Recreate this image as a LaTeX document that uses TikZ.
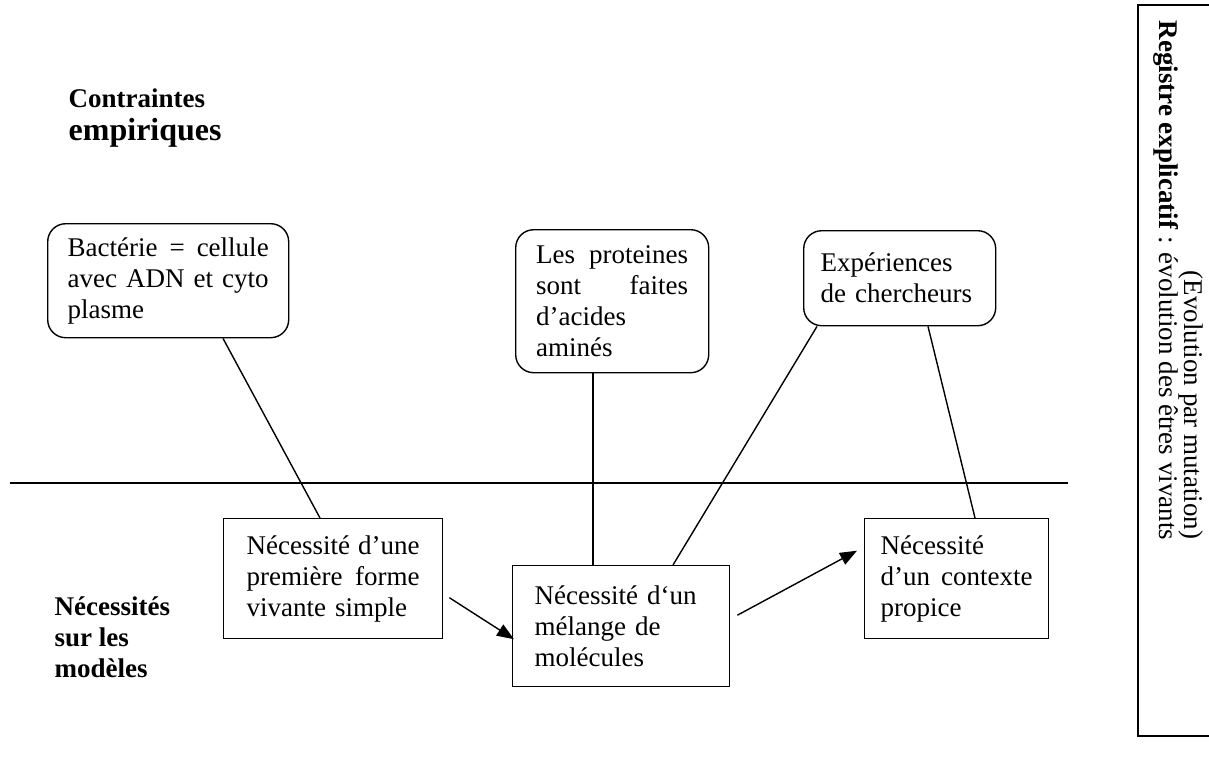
\documentclass[tikz,border=0pt]{standalone}
\usepackage{fontspec}
\setmainfont{Liberation Serif}
\usetikzlibrary{arrows.meta}
\setlength{\parindent}{0pt}
\newcommand{\jl}[1]{\leavevmode\hbox to \hsize{\spaceskip=0.25em plus 1fil\relax #1}}
\begin{document}
\begin{tikzpicture}[x=1pt,y=-1pt,line width=1.4pt,
  font=\fontsize{27}{31}\selectfont,
  box/.style={draw,inner sep=0pt,anchor=north west,align=left},
  rbox/.style={box,rounded corners=18pt},
  lbl/.style={inner sep=0pt},
  arr/.style={-{Triangle[length=17pt,width=13pt]}}]
\useasboundingbox (0,0) rectangle (1209,756);
% headings
\node[lbl,anchor=base west,font=\bfseries\fontsize{27}{31}\selectfont] (c1) at (68,107) {Contraintes};
\node[lbl,anchor=base west,font=\bfseries\fontsize{32}{36}\selectfont] (c2) at (68,140) {empiriques};
\node[lbl,anchor=base west,font=\bfseries\fontsize{27}{31}\selectfont] (nm) at (54,615)
  {\begin{tabular}[t]{@{}l@{}}Nécessités\\sur les\\modèles\end{tabular}};
% separator line
\draw (10,483) -- (1068,483);
% right frame
\draw (1209,5) -- (1138,5) -- (1138,736) -- (1209,736);
\node[lbl,rotate=-90,anchor=base west] (reg) at (1159,20)
  {\textbf{Registre explicatif} : évolution des êtres vivants};
\node[lbl,rotate=-90,anchor=base east] (evo) at (1184,540) {(Evolution par mutation)};
% upper boxes
\node[rbox,minimum width=241pt,minimum height=114pt,text width=201pt] (bact) at (47,223)
  {\jl{Bactérie = cellule}\\\jl{avec ADN et cyto}\\plasme};
\node[rbox,minimum width=193pt,minimum height=143pt,text width=152pt] (prot) at (515,229)
  {\jl{Les proteines}\\\jl{sont faites}\\d’acides\\aminés};
\node[rbox,minimum width=192pt,minimum height=95pt,text width=158pt] (exp) at (803,230)
  {Expériences\\de chercheurs};
% lower boxes
\node[box,minimum width=219pt,minimum height=120pt,text width=173pt] (n1) at (223,518)
  {\jl{Nécessité d’une}\\\jl{première forme}\\vivante simple};
\node[box,minimum width=217pt,minimum height=121pt,text width=173pt] (n2) at (512,565)
  {Nécessité d‘un\\mélange de\\molécules};
\node[box,minimum width=184pt,minimum height=120pt,text width=152pt] (n3) at (864,518)
  {Nécessité\\\jl{d’un contexte}\\propice};
% connectors
\draw ([xshift=176pt]bact.south west) -- ([xshift=97pt]n1.north west);
\draw ([xshift=78pt]prot.south west) -- ([xshift=81pt]n2.north west);
\draw ([xshift=14pt]exp.south west) -- ([xshift=161pt]n2.north west);
\draw ([xshift=125pt]exp.south west) -- ([xshift=111pt]n3.north west);
\draw[arr] ([shift={(6,19)}]n1.east) -- ([shift={(2,13)}]n2.west);
\draw[arr] ([shift={(7,-11)}]n2.east) -- ([shift={(-7,-28)}]n3.west);
\end{tikzpicture}
\end{document}
